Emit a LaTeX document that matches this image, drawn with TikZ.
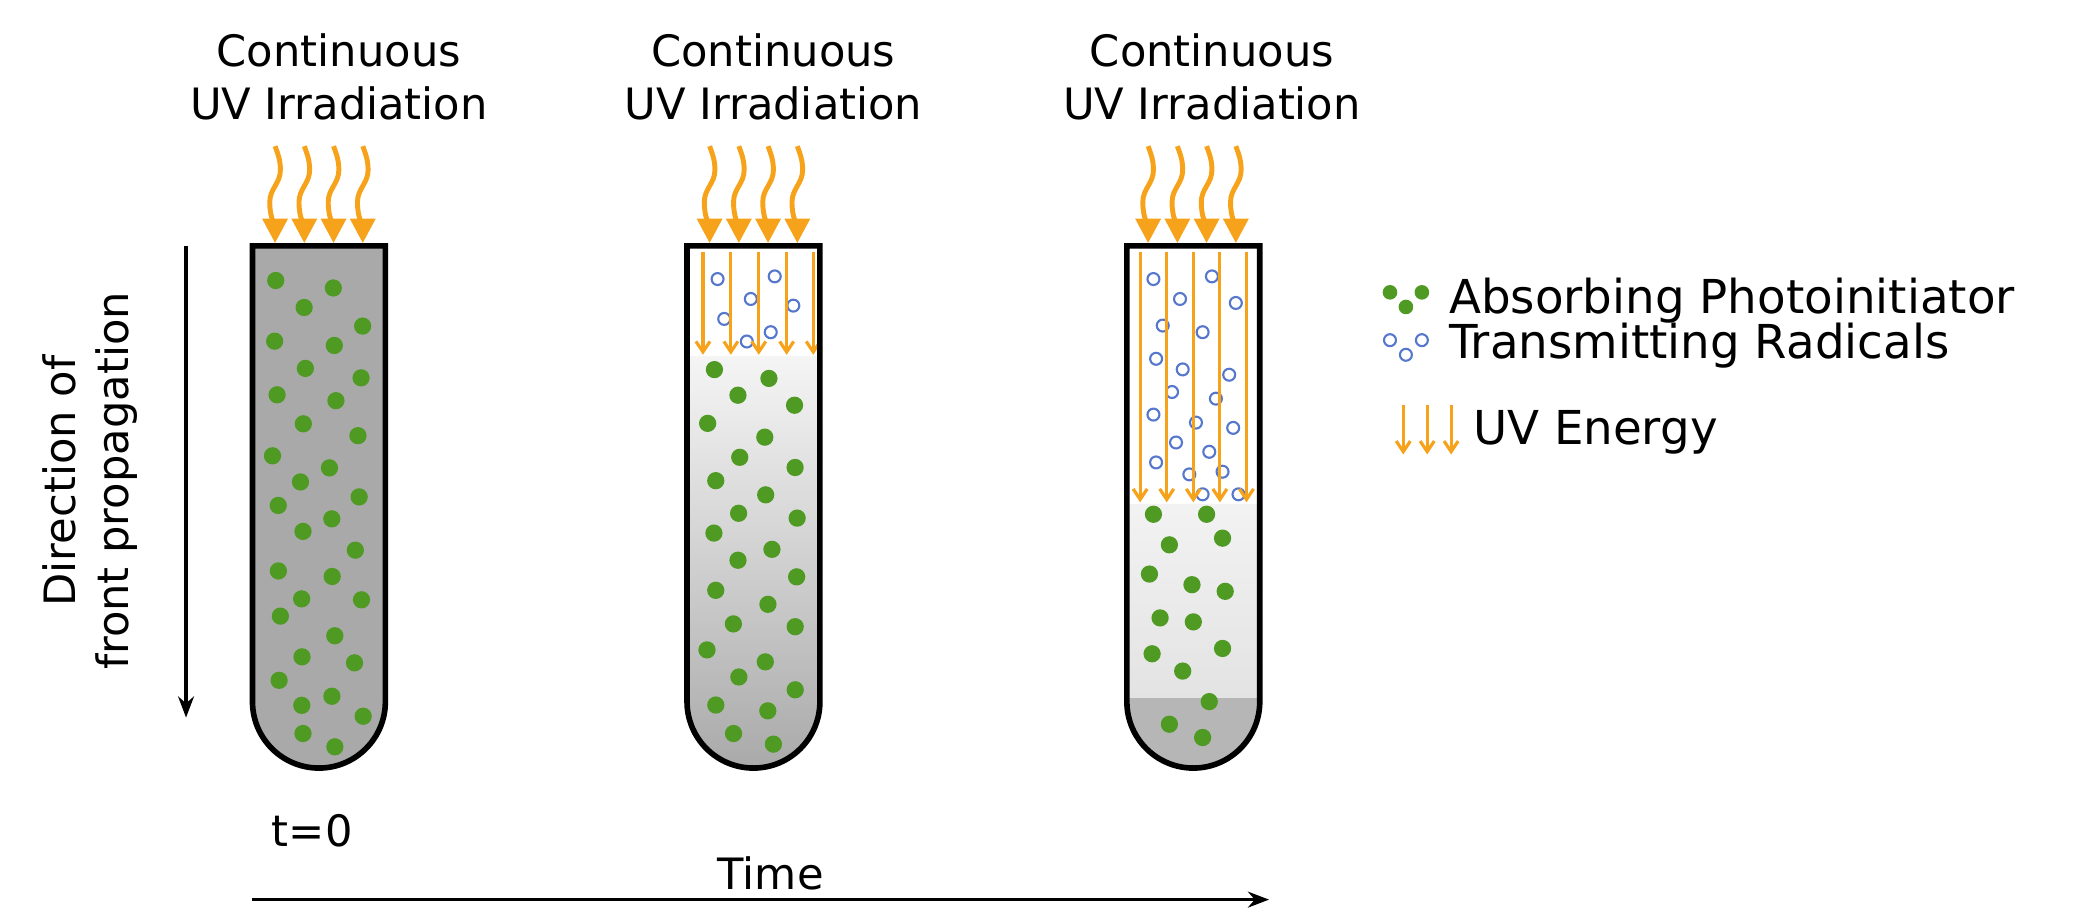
\documentclass[tikz,border=0pt]{standalone}
\usepackage{fontspec}
\setmainfont{DejaVu Sans}
\usetikzlibrary{arrows.meta}
\definecolor{org}{HTML}{F7A21B}
\definecolor{grn}{HTML}{4E9A23}
\definecolor{blu}{HTML}{5577CC}
\definecolor{tg}{HTML}{A9A9A9}
\begin{document}
\begin{tikzpicture}[x=0.01329cm,y=-0.01329cm,
  lbl/.style={font=\fontsize{12.3}{15}\selectfont,align=center,inner sep=0},
  leg/.style={font=\fontsize{13.3}{15}\selectfont,anchor=west,inner sep=0},
  uv/.style={org,line width=1.4pt,-{Triangle[length=7pt,width=7pt]}},
  ray/.style={org,line width=0.9pt,-{Straight Barb[length=3pt,width=4pt]}},
  dot/.style={fill=grn,draw=none},
  rad/.style={draw=blu,line width=0.6pt,fill=white},
  tube/.style={line width=1.6pt,draw=black}]
\useasboundingbox (0,0) rectangle (1560,693);
\def\tubepath#1{(#1,185) -- (#1,528) arc (180:0:50) -- (#1+100,185) -- cycle}
% titles
\foreach \cx/\n in {255/a,582/b,912/c}{
  \node[lbl] (t\n) at (\cx,58) {Continuous\\UV Irradiation};
  \foreach \dx in {-33,-11,11,33}{
    \draw[uv] (\cx+\dx-15,110) to[out=-70,in=90] (\cx+\dx-11,128) to[out=-90,in=90] (\cx+\dx-19,152) to[out=-90,in=90] (\cx+\dx-15,183);
  }}
% tube 1
\fill[tg] \tubepath{190};
\pgfmathsetseed{7}
\foreach \i in {0,...,15}{
  \foreach \k in {0,1}{
    \pgfmathsetmacro\px{208+\k*42+mod(\i,2)*20+rand*4}
    \pgfmathsetmacro\py{210+\i*21.5+\k*9+rand*5}
    \fill[dot] (\px,\py) circle (6.5);
  }}
\fill[dot] (228,552) circle (6.5);
\fill[dot] (252,562) circle (6.5);
\draw[tube] \tubepath{190};
% tube 2
\begin{scope}
\clip \tubepath{517};
\fill[white] (517,185) rectangle (617,268);
\shade[top color=white!92!gray, bottom color=tg, middle color=tg!55!white] (517,268) rectangle (617,580);
\end{scope}
\pgfmathsetseed{11}
\foreach \i in {0,...,12}{
  \foreach \k in {0,1}{
    \pgfmathsetmacro\px{535+\k*42+mod(\i,2)*20+rand*4}
    \pgfmathsetmacro\py{278+\i*21+\k*8+rand*4}
    \fill[dot] (\px,\py) circle (6.5);
  }}
\fill[dot] (552,552) circle (6.5);
\fill[dot] (582,560) circle (6.5);
\foreach \x/\y in {540/210, 583/208, 545/240, 565/225, 597/230, 580/250, 562/257}
  \draw[rad] (\x,\y) circle (4.5);
\foreach \x in {529,550,571,592,612}
  \draw[ray] (\x,190) -- (\x,267);
\draw[tube] \tubepath{517};
% tube 3
\begin{scope}
\clip \tubepath{848};
\fill[white] (848,185) rectangle (948,380);
\shade[top color=white!90!gray, bottom color=white!78!gray] (848,380) rectangle (948,525);
\fill[tg!85!white] (848,525) rectangle (948,580);
\end{scope}
\foreach \x/\y in {868/387, 908/387, 880/410, 920/405, 865/432, 897/440, 922/445, 873/465, 898/468, 867/492, 920/488, 890/505, 910/528, 880/545, 905/555}
  \fill[dot] (\x,\y) circle (6.5);
\foreach \x/\y in {868/210, 912/208, 888/225, 930/228, 875/245, 905/250, 870/270, 890/278, 925/282, 882/295, 915/300, 868/312, 900/318, 928/322, 885/333, 910/340, 870/348, 895/357, 920/355, 932/372, 905/372}
  \draw[rad] (\x,\y) circle (4.5);
\foreach \x in {858,878,898,918,938}
  \draw[ray] (\x,190) -- (\x,378);
\draw[tube] \tubepath{848};
% direction arrow
\coordinate (d1) at (140,185); \coordinate (d2) at (140,540);
\draw[line width=1pt,-{Stealth[length=6pt]}] (d1) -- (d2);
\node[lbl,rotate=90] (dir) at (68,362) {Direction of\\front propagation};
% time
\node[lbl] (t0) at (235,625) {t=0};
\node[lbl] (time) at (580,657) {Time};
\coordinate (tA) at (190,677); \coordinate (tB) at (955,677);
\draw[line width=1pt,-{Stealth[length=6pt]}] (tA) -- (tB);
% legend
\fill[dot] (1046,220) circle (5.5); \fill[dot] (1058,231) circle (5.5); \fill[dot] (1070,220) circle (5.5);
\node[leg] (l1) at (1090,226) {Absorbing Photoinitiator};
\draw[rad] (1046,256) circle (4.5); \draw[rad] (1058,267) circle (4.5); \draw[rad] (1070,256) circle (4.5);
\node[leg] (l2) at (1090,260) {Transmitting Radicals};
\foreach \x in {1056,1074,1092} \draw[ray] (\x,305) -- (\x,342);
\node[leg] (l3) at (1108,325) {UV Energy};
\end{tikzpicture}
\end{document}
